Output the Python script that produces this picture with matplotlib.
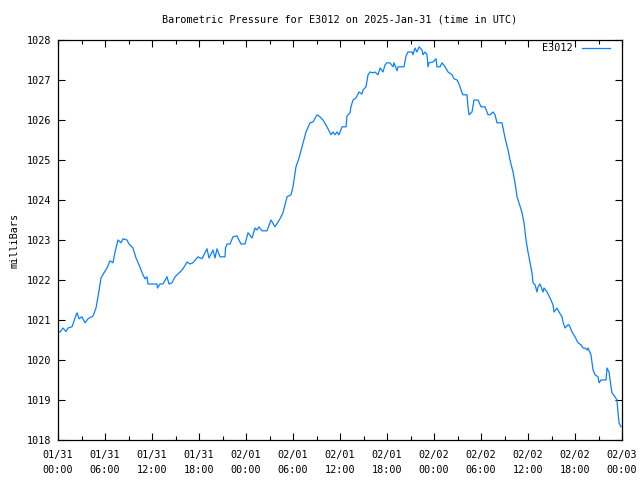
import datetime as dt
import matplotlib
matplotlib.use("Agg")
import matplotlib.pyplot as plt
import matplotlib.dates as mdates

# hours since 2025-01-31 00:00 UTC
hours = [0.00, 0.26, 0.64, 1.02, 1.28, 1.79, 2.17, 2.43, 2.68, 3.06, 3.45, 3.83, 4.47, 4.85, 5.11,
         5.49, 5.87, 6.26, 6.64, 7.02, 7.28, 7.66, 8.04, 8.30, 8.81, 9.06, 9.57, 9.96, 10.34, 10.85,
         11.11, 11.36, 11.49, 12.64, 12.70, 13.02, 13.40, 13.92, 14.17, 14.55, 14.94, 15.58, 15.96,
         16.47, 16.85, 17.23, 17.87, 18.38, 19.02, 19.28, 19.79, 20.04, 20.30, 20.68, 21.32, 21.38,
         21.58, 21.96, 22.34, 22.85, 23.36, 23.87, 24.26, 24.77, 25.15, 25.41, 25.66, 26.04, 26.68,
         27.19, 27.70, 28.34, 28.72, 29.24, 29.75, 30.00, 30.38, 30.77, 31.15, 31.66, 32.17, 32.55,
         33.07, 33.32, 33.83, 34.34, 34.85, 35.11, 35.36, 35.62, 35.87, 36.26, 36.77, 36.89, 37.28,
         37.40, 37.66, 38.04, 38.43, 38.81, 38.94, 39.32, 39.58, 39.83, 40.21, 40.47, 40.85, 41.11,
         41.49, 41.75, 42.00, 42.38, 42.77, 42.90, 43.28, 43.41, 44.17, 44.43, 44.68, 45.19, 45.32,
         45.58, 45.83, 46.09, 46.47, 46.60, 46.85, 47.11, 47.24, 47.36, 47.87, 48.26, 48.38, 48.77,
         49.02, 49.41, 49.79, 50.30, 50.56, 50.94, 51.19, 51.58, 51.70, 52.21, 52.34, 52.47, 52.85,
         53.11, 53.62, 54.00, 54.51, 54.90, 55.15, 55.53, 55.79, 56.04, 56.68, 57.07, 57.45, 57.70,
         58.09, 58.34, 58.60, 58.85, 59.24, 59.49, 59.75, 60.00, 60.26, 60.51, 60.64, 60.90, 61.15,
         61.28, 61.53, 61.92, 62.04, 62.43, 62.81, 63.19, 63.32, 63.70, 63.96, 64.34, 64.47, 64.73,
         65.11, 65.24, 65.62, 66.00, 66.39, 66.77, 67.02, 67.28, 67.53, 67.66, 68.04, 68.30, 68.56,
         68.94, 69.07, 69.32, 69.96, 70.09, 70.34, 70.60, 70.72, 71.11, 71.36, 71.49, 71.62, 71.87]

pressure = [1020.70, 1020.70, 1020.80, 1020.71, 1020.80, 1020.83, 1021.05, 1021.18, 1021.03, 1021.08,
            1020.93, 1021.03, 1021.10, 1021.30, 1021.58, 1022.05, 1022.18, 1022.30, 1022.48, 1022.43,
            1022.70, 1023.00, 1022.93, 1023.03, 1023.00, 1022.90, 1022.80, 1022.55, 1022.38, 1022.13,
            1022.03, 1022.08, 1021.90, 1021.90, 1021.80, 1021.90, 1021.90, 1022.08, 1021.90, 1021.93,
            1022.08, 1022.20, 1022.28, 1022.45, 1022.40, 1022.43, 1022.58, 1022.53, 1022.78, 1022.55,
            1022.75, 1022.55, 1022.78, 1022.58, 1022.58, 1022.80, 1022.90, 1022.90, 1023.08, 1023.10,
            1022.90, 1022.90, 1023.18, 1023.05, 1023.30, 1023.25, 1023.33, 1023.23, 1023.23, 1023.50,
            1023.33, 1023.53, 1023.68, 1024.08, 1024.13, 1024.33, 1024.83, 1025.05, 1025.33, 1025.70,
            1025.93, 1025.95, 1026.13, 1026.10, 1026.00, 1025.83, 1025.63, 1025.70, 1025.63, 1025.70,
            1025.63, 1025.83, 1025.83, 1026.10, 1026.18, 1026.33, 1026.50, 1026.55, 1026.70, 1026.65,
            1026.75, 1026.83, 1027.13, 1027.20, 1027.18, 1027.20, 1027.13, 1027.30, 1027.20, 1027.38,
            1027.43, 1027.43, 1027.33, 1027.43, 1027.23, 1027.33, 1027.33, 1027.60, 1027.70, 1027.70,
            1027.63, 1027.80, 1027.70, 1027.83, 1027.75, 1027.63, 1027.70, 1027.63, 1027.33, 1027.43,
            1027.45, 1027.53, 1027.33, 1027.33, 1027.43, 1027.33, 1027.20, 1027.13, 1027.03, 1027.00,
            1026.90, 1026.68, 1026.63, 1026.63, 1026.33, 1026.13, 1026.20, 1026.50, 1026.50, 1026.33,
            1026.33, 1026.13, 1026.13, 1026.20, 1026.13, 1025.93, 1025.93, 1025.55, 1025.25, 1025.00,
            1024.70, 1024.43, 1024.08, 1023.93, 1023.68, 1023.43, 1023.00, 1022.70, 1022.43, 1022.18,
            1021.93, 1021.88, 1021.70, 1021.83, 1021.90, 1021.70, 1021.80, 1021.70, 1021.55, 1021.38,
            1021.20, 1021.30, 1021.20, 1021.08, 1020.95, 1020.80, 1020.88, 1020.88, 1020.70, 1020.58,
            1020.43, 1020.38, 1020.30, 1020.30, 1020.25, 1020.30, 1020.13, 1019.75, 1019.63, 1019.58,
            1019.43, 1019.50, 1019.50, 1019.80, 1019.70, 1019.33, 1019.18, 1019.08, 1019.00, 1018.68,
            1018.43, 1018.33]

start = dt.datetime(2025, 1, 31)
end = dt.datetime(2025, 2, 3)
times = [start + dt.timedelta(hours=h) for h in hours]

mono = "DejaVu Sans Mono"
fs = 7.3

fig = plt.figure(figsize=(6.4, 4.8), dpi=100)
ax = fig.add_axes([58/640, 40/480, 564/640, 400/480])

ax.plot(times, pressure, color="#0a80ff", lw=0.9, label="E3012")

ax.set_xlim(start, end)
ax.set_ylim(1018, 1028)
ax.set_yticks(range(1018, 1029))
ax.xaxis.set_major_locator(mdates.HourLocator(byhour=[0, 6, 12, 18]))
ax.xaxis.set_minor_locator(mdates.HourLocator(byhour=[3, 9, 15, 21]))
ax.xaxis.set_major_formatter(mdates.DateFormatter("%m/%d\n%H:%M"))

ax.tick_params(axis="both", which="both", direction="in", top=True, right=True, labelsize=fs)
ax.tick_params(axis="x", pad=7)
ax.tick_params(axis="y", pad=5)
ax.tick_params(which="major", length=5, width=0.8)
ax.tick_params(which="minor", length=3, width=0.8)
for lab in ax.get_yticklabels():
    lab.set_fontfamily(mono)
for lab in ax.get_xticklabels():
    lab.set_fontfamily(mono)
    lab.set_linespacing(1.6)
for s in ax.spines.values():
    s.set_linewidth(0.9)

ax.set_ylabel("milliBars", fontsize=fs, family=mono, labelpad=5)
fig.text(340/640, 1 - 19/480, "Barometric Pressure for E3012 on 2025-Jan-31 (time in UTC)",
         ha="center", va="center", fontsize=fs, family=mono)

ax.legend(loc="upper right", bbox_to_anchor=(1 - 8/564, 1 + 1/400), frameon=False,
          markerfirst=False, handlelength=2.8, borderaxespad=0.0,
          prop={"family": mono, "size": fs}, handletextpad=0.9)

fig.savefig("out.png", dpi=100)
